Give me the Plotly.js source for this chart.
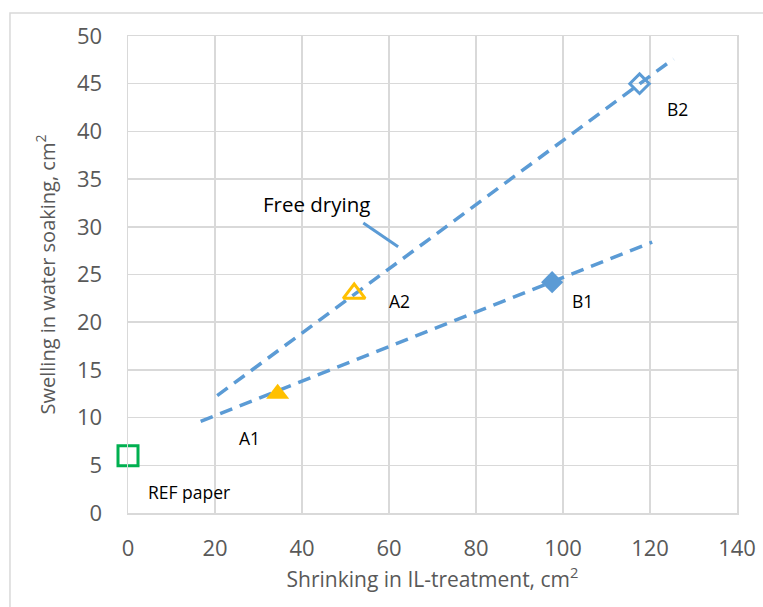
<!DOCTYPE html>
<html>
<head>
<meta charset="utf-8">
<script src="https://cdn.plot.ly/plotly-3.0.1.min.js"></script>
<style>html,body{margin:0;padding:0;background:#fff;}#chart{width:763px;height:607px;}</style>
</head>
<body>
<div id="chart"></div>
<script>
// Sample points
const sampleNames = ["REF paper", "A1", "A2", "B1", "B2"];
const sampleX = [0, 34.4, 52, 97.5, 117.6];
const sampleY = [6, 12.5, 23, 24.2, 45];
// Trendlines (endpoints as drawn)
const lineA1B1_x = [16.7, 120.5];
const lineA1B1_y = [9.6, 28.4];
const lineA2B2_x = [20.5, 125.4];
const lineA2B2_y = [12.3, 47.6];
// Label positions
const labelText = ["REF paper", "A1", "A2", "B1", "B2"];
const labelX = [14.1, 28.0, 62.3, 104.4, 126.4];
const labelY = [2.2, 7.85, 22.2, 22.2, 42.3];
const noteText = "Free drying";
const noteX = 43.3, noteY = 32.4;
const pointerX = [54.1, 62.1];
const pointerY = [30.4, 27.9];

const blue = "#5B9BD5", gold = "#FFC000", green = "#00B050";
const fontFam = "Open Sans, Noto Sans, sans-serif";

const traces = [
  {x: lineA1B1_x, y: lineA1B1_y, mode: "lines", line: {color: blue, width: 3.5, dash: "13px,8px"}, hoverinfo: "skip"},
  {x: lineA2B2_x, y: lineA2B2_y, mode: "lines", line: {color: blue, width: 3.5, dash: "13px,8px"}, hoverinfo: "skip"},
  {x: pointerX, y: pointerY, mode: "lines", line: {color: blue, width: 3}, hoverinfo: "skip"},
  {x: [sampleX[0]], y: [sampleY[0]], mode: "markers", cliponaxis: false,
   marker: {symbol: "square-open", size: 20, color: green, line: {color: green, width: 3}}},
  {x: [sampleX[1]], y: [sampleY[1]], mode: "markers", cliponaxis: false,
   marker: {symbol: "triangle-up", size: 20, color: gold}},
  {x: [sampleX[2]], y: [sampleY[2]], mode: "markers", cliponaxis: false,
   marker: {symbol: "triangle-up-open", size: 19, color: gold, line: {color: gold, width: 3}}},
  {x: [sampleX[3]], y: [sampleY[3]], mode: "markers", cliponaxis: false,
   marker: {symbol: "diamond", size: 17, color: blue}},
  {x: [sampleX[4]], y: [sampleY[4]], mode: "markers", cliponaxis: false,
   marker: {symbol: "diamond-open", size: 15, color: blue, line: {color: blue, width: 3}}}
];

const annotations = labelText.map((t, i) => ({
  x: labelX[i], y: labelY[i], xref: "x", yref: "y", text: t, showarrow: false,
  font: {family: fontFam, size: 17.5, color: "#000"}
}));
annotations.push({x: noteX, y: noteY, xref: "x", yref: "y", text: noteText, showarrow: false,
  font: {family: fontFam, size: 20.5, color: "#000"}});

const layout = {
  width: 763, height: 607,
  margin: {l: 128, r: 26, t: 36, b: 94},
  paper_bgcolor: "#fff", plot_bgcolor: "#fff",
  showlegend: false,
  font: {family: fontFam, color: "#595959"},
  xaxis: {
    range: [0, 140], tickvals: [0, 20, 40, 60, 80, 100, 120, 140],
    showgrid: true, gridcolor: "#d9d9d9", gridwidth: 1.5,
    zeroline: false, showline: true, linecolor: "#d9d9d9", linewidth: 1.5, mirror: true,
    ticks: "outside", ticklen: 15, tickcolor: "rgba(0,0,0,0)",
    tickfont: {family: fontFam, size: 22, color: "#595959"},
    title: {text: "Shrinking in IL-treatment, cm<sup>2</sup>", font: {family: fontFam, size: 21, color: "#595959"}, standoff: 6},
    fixedrange: true
  },
  yaxis: {
    range: [0, 50], tickvals: [0, 5, 10, 15, 20, 25, 30, 35, 40, 45, 50],
    showgrid: true, gridcolor: "#d9d9d9", gridwidth: 1.5,
    zeroline: false, showline: true, linecolor: "#d9d9d9", linewidth: 1.5, mirror: true,
    ticks: "outside", ticklen: 20, tickcolor: "rgba(0,0,0,0)",
    tickfont: {family: fontFam, size: 22, color: "#595959"},
    title: {text: "Swelling in water soaking, cm<sup>2</sup>", font: {family: fontFam, size: 20, color: "#595959"}, standoff: 16},
    fixedrange: true
  },
  annotations: annotations,
  shapes: [
    {type: "rect", xref: "paper", yref: "paper", x0: -0.1938, x1: 1.2, y0: -0.3, y1: 1.0483,
     line: {color: "#d9d9d9", width: 1.5}, fillcolor: "rgba(0,0,0,0)", layer: "below"}
  ]
};

Plotly.newPlot("chart", traces, layout, {displayModeBar: false, staticPlot: true});
</script>
</body>
</html>
